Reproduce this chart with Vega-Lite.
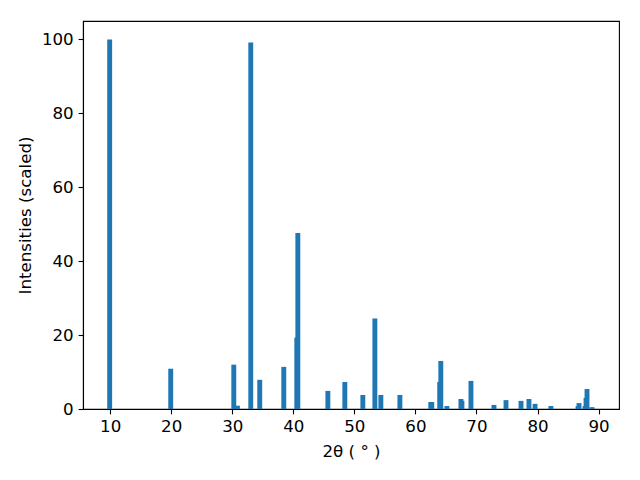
{
  "$schema": "https://vega.github.io/schema/vega-lite/v6.json",
  "autosize": {"type": "none"},
  "padding": {"left": 83, "top": 21, "right": 21, "bottom": 71},
  "width": 536,
  "height": 388,
  "config": {
    "font": "DejaVu Sans",
    "view": {"stroke": "black", "strokeWidth": 1.1},
    "axis": {
      "grid": false,
      "domainColor": "black",
      "domainWidth": 1.1,
      "tickColor": "black",
      "tickWidth": 1.1,
      "tickSize": 4.9,
      "labelFont": "DejaVu Sans",
      "labelFontSize": 16.67,
      "labelColor": "black",
      "labelPadding": 4.9,
      "titleFont": "DejaVu Sans",
      "titleFontSize": 16.67,
      "titleFontWeight": "normal",
      "titleColor": "black"
    }
  },
  "data": {
    "values": [
      {"two_theta": 9.92, "intensity": 100},
      {"two_theta": 19.92, "intensity": 10.9},
      {"two_theta": 30.25, "intensity": 12.0},
      {"two_theta": 30.85, "intensity": 0.9},
      {"two_theta": 33.03, "intensity": 99.2},
      {"two_theta": 34.5, "intensity": 7.9},
      {"two_theta": 38.44, "intensity": 11.4},
      {"two_theta": 40.57, "intensity": 19.3},
      {"two_theta": 40.74, "intensity": 47.6},
      {"two_theta": 45.66, "intensity": 4.9},
      {"two_theta": 48.44, "intensity": 7.3},
      {"two_theta": 51.39, "intensity": 3.8},
      {"two_theta": 53.36, "intensity": 24.5},
      {"two_theta": 54.34, "intensity": 3.8},
      {"two_theta": 57.46, "intensity": 3.8},
      {"two_theta": 62.52, "intensity": 1.9},
      {"two_theta": 62.68, "intensity": 1.9},
      {"two_theta": 63.98, "intensity": 7.3},
      {"two_theta": 64.16, "intensity": 13.0},
      {"two_theta": 65.16, "intensity": 0.8},
      {"two_theta": 67.46, "intensity": 2.7},
      {"two_theta": 67.62, "intensity": 2.2},
      {"two_theta": 69.1, "intensity": 7.6},
      {"two_theta": 72.87, "intensity": 1.1},
      {"two_theta": 74.84, "intensity": 2.4},
      {"two_theta": 77.3, "intensity": 2.2},
      {"two_theta": 78.6, "intensity": 2.7},
      {"two_theta": 79.6, "intensity": 1.4},
      {"two_theta": 82.2, "intensity": 0.8},
      {"two_theta": 86.64, "intensity": 0.8},
      {"two_theta": 86.8, "intensity": 1.6},
      {"two_theta": 87.79, "intensity": 0.8},
      {"two_theta": 87.95, "intensity": 3.0},
      {"two_theta": 88.11, "intensity": 5.4},
      {"two_theta": 88.93, "intensity": 0.5}
    ]
  },
  "mark": {"type": "bar", "width": 4.9, "color": "#1f77b4", "clip": true},
  "encoding": {
    "x": {
      "field": "two_theta",
      "type": "quantitative",
      "scale": {"domain": [5.55, 93.35], "nice": false, "zero": false, "padding": 0},
      "axis": {"values": [10, 20, 30, 40, 50, 60, 70, 80, 90], "title": "2θ ( ° )", "titlePadding": 8}
    },
    "y": {
      "field": "intensity",
      "type": "quantitative",
      "scale": {"domain": [0, 105], "nice": false, "padding": 0},
      "axis": {"values": [0, 20, 40, 60, 80, 100], "title": "Intensities (scaled)", "titlePadding": 7}
    }
  }
}
